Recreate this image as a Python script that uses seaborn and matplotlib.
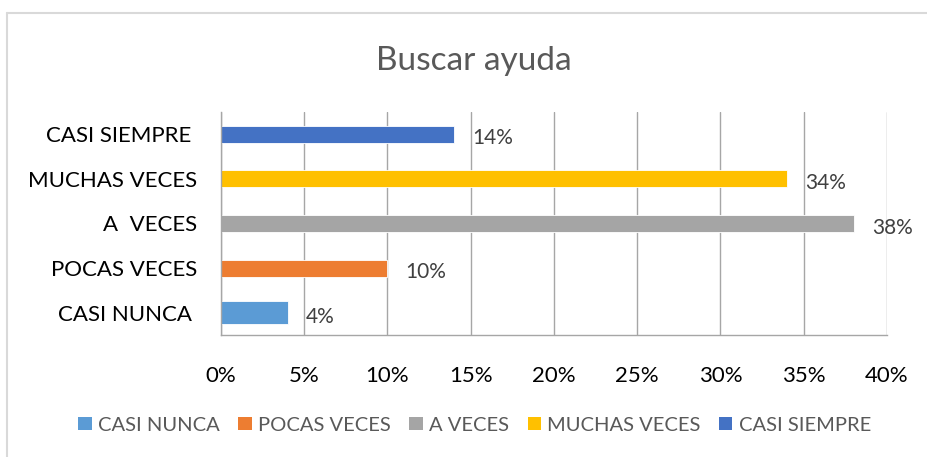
import matplotlib
matplotlib.use("Agg")
import matplotlib.pyplot as plt
import seaborn as sns
import pandas as pd
from matplotlib.lines import Line2D
from matplotlib.patches import Patch
from matplotlib.ticker import FuncFormatter

# data, top to bottom as on the chart
categories = ["CASI SIEMPRE ", "MUCHAS VECES", "A  VECES", "POCAS VECES", "CASI NUNCA "]
values = [0.14, 0.34, 0.38, 0.10, 0.04]
value_labels = ["14%", "34%", "38%", "10%", "4%"]
legend_names = ["CASI NUNCA", "POCAS VECES", "A VECES", "MUCHAS VECES", "CASI SIEMPRE"]
colors = ["#4472C4", "#FFC000", "#A5A5A5", "#ED7D31", "#5B9BD5"]
x_ticks = [0, 0.05, 0.10, 0.15, 0.20, 0.25, 0.30, 0.35, 0.40]

sns.set_theme(style="white")
plt.rcParams["font.family"] = ["Lato", "DejaVu Sans"]

df = pd.DataFrame({"cat": categories, "val": values})

fig = plt.figure(figsize=(9.27, 4.57), dpi=100)
ax = fig.add_axes([0.2384, 0.267, 0.7184, 0.488])

sns.barplot(data=df, x="val", y="cat", hue="cat", order=categories,
            hue_order=categories, palette=colors, dodge=False,
            width=0.38, legend=False, ax=ax, saturation=1)

for p in ax.patches:
    p.set_edgecolor("white")
    p.set_linewidth(0.6)
# the last bar is drawn a little thicker in the original
last = ax.patches[-1]
last.set_y(last.get_y() + last.get_height() / 2 - 0.26)
last.set_height(0.52)

ax.set_xlim(0, 0.40)
ax.set_ylim(len(categories) - 0.5, -0.5)
ax.set_xticks(x_ticks)
ax.xaxis.set_major_formatter(FuncFormatter(lambda v, _: f"{v * 100:.0f}%"))
ax.tick_params(axis="x", length=8, width=1, color="#A6A6A6", labelsize=16,
               labelcolor="#000000", pad=14, direction="out")

# category boundaries as ticks, names at the centres
ax.set_yticks([i - 0.5 for i in range(len(categories) + 1)])
ax.set_yticklabels([])
ax.set_yticks(range(len(categories)), minor=True)
ax.set_yticklabels(categories, minor=True)
ax.tick_params(axis="y", which="major", length=8, width=1, color="#A6A6A6", direction="out")
ax.tick_params(axis="y", which="minor", length=0, labelsize=16, labelcolor="#000000", pad=17)

ax.grid(axis="x", color="#A6A6A6", linewidth=1)
ax.set_axisbelow(True)
for side in ["top", "right"]:
    ax.spines[side].set_visible(False)
for side in ["left", "bottom"]:
    ax.spines[side].set_color("#A6A6A6")
    ax.spines[side].set_linewidth(1)
ax.set_xlabel("")
ax.set_ylabel("")

for i, (v, lab) in enumerate(zip(values, value_labels)):
    ax.annotate(lab, (v, i), xytext=(13, -3), textcoords="offset points",
                va="center", ha="left", fontsize=15, color="#404040")

fig.text(0.511, 0.866, "Buscar ayuda", ha="center", va="center",
         fontsize=24, color="#595959")

handles = [Patch(facecolor=c, edgecolor="none") for c in colors[::-1]]
fig.legend(handles, legend_names, loc="center", bbox_to_anchor=(0.512, 0.07),
           ncol=5, frameon=False, fontsize=14.5, labelcolor="#595959",
           handlelength=0.65, handleheight=0.65, handletextpad=0.3,
           columnspacing=0.95)

# outer chart frame
fig.add_artist(Line2D([0.0076, 0.0076], [0, 0.972], color="#D9D9D9", lw=1.5))
fig.add_artist(Line2D([0.0076, 1], [0.972, 0.972], color="#D9D9D9", lw=1.5))

fig.savefig("out.png", dpi=100, facecolor="white")
